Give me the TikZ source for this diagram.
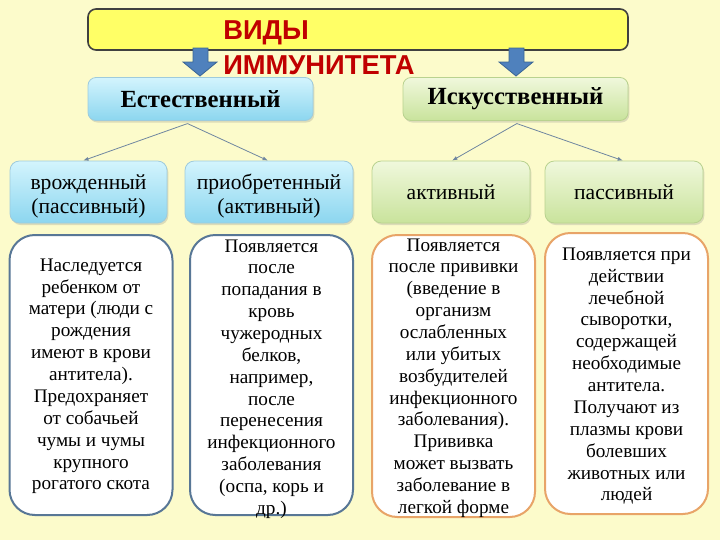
\documentclass[tikz,border=0pt]{standalone}
\usepackage{fontspec}
\setmainfont{Liberation Serif}
\newfontfamily\titlefont{Liberation Sans}
\usetikzlibrary{arrows.meta,shadows}
\definecolor{bg}{HTML}{FCFBCB}
\definecolor{titlefill}{HTML}{FFFF66}
\definecolor{titlered}{HTML}{C00000}
\definecolor{arrblue}{HTML}{4F81BD}
\definecolor{arrborder}{HTML}{3A6595}
\definecolor{bluetop}{HTML}{D3F4FD}
\definecolor{bluebot}{HTML}{8CD6EF}
\definecolor{blueline}{HTML}{9FCBDC}
\definecolor{greentop}{HTML}{F0F8DC}
\definecolor{greenbot}{HTML}{C9E39C}
\definecolor{greenline}{HTML}{B9D28F}
\definecolor{slateline}{HTML}{587796}
\definecolor{orangeline}{HTML}{E8A468}
\definecolor{connline}{HTML}{6F86A0}
\def\pxu{0.75pt}
\tikzset{
  softshadow/.style={drop shadow={opacity=0.25,shadow xshift=1pt,shadow yshift=-1.5pt}},
  levelone/.style={rounded corners=6pt,line width=0.6pt,softshadow,
    minimum width=225*\pxu,minimum height=43*\pxu,inner sep=0pt,
    font=\bfseries\fontsize{18.5}{20}\selectfont},
  leveltwo/.style={rounded corners=7pt,line width=0.6pt,softshadow,
    minimum height=62*\pxu,inner sep=0pt,align=center,
    font=\fontsize{16.2}{18}\selectfont},
  twotext/.style={label={[align=center,inner sep=0pt,yshift=-3pt,
    font=\fontsize{16.2}{18}\selectfont]center:{#1}}},
  bluebox/.style={draw=blueline,top color=bluetop,bottom color=bluebot},
  greenbox/.style={draw=greenline,top color=greentop,bottom color=greenbot},
  descbox/.style={rounded corners=19pt,line width=1.5pt,fill=white,
    minimum width=163*\pxu,minimum height=280*\pxu,inner sep=0pt},
  desctext/.style={align=center,inner sep=0pt,font=\fontsize{14.4}{16.4}\selectfont},
  conn/.style={draw=connline,line width=0.6pt,-{Latex[length=4pt,width=3pt]}},
  blockarrow/.style={fill=arrblue,draw=arrborder,line width=0.6pt,line join=miter}
}
\begin{document}
\begin{tikzpicture}[x=0.75pt,y=-0.75pt]
\fill[bg] (0,0) rectangle (720,540);
\useasboundingbox (0,0) rectangle (720,540);

% title
\node[draw=black!75,fill=titlefill,rounded corners=6pt,line width=1.2pt,
  minimum width=540*\pxu,minimum height=41*\pxu] (title) at (358,29.5) {};

% block arrows
\path[blockarrow] (183,62) -- (193,62) -- (193,48) -- (208,48) -- (208,62) -- (217,62) -- (200,76) -- cycle;
\path[blockarrow] (499,62) -- (509,62) -- (509,48) -- (524,48) -- (524,62) -- (533,62) -- (516,76) -- cycle;

\node[anchor=west,align=left,inner sep=0pt,text=titlered,
  font=\titlefont\bfseries\fontsize{20.5}{26}\selectfont] (titletext) at (223,48) {ВИДЫ\\ИММУНИТЕТА};

% level one
\node[levelone,bluebox] (nat) at (200.5,99) {Естественный};
\node[levelone,greenbox] (art) at (515.5,99) {Искусственный};

% level two
\node[leveltwo,bluebox,minimum width=157*\pxu,twotext={врожденный\\(пассивный)}] (v1) at (88.5,192) {};
\node[leveltwo,bluebox,minimum width=168*\pxu,twotext={приобретенный\\(активный)}] (v2) at (269,192) {};
\node[leveltwo,greenbox,minimum width=158*\pxu] (v3) at (451,192) {активный};
\node[leveltwo,greenbox,minimum width=158*\pxu] (v4) at (624,192) {пассивный};

% connectors
\draw[conn] ([xshift=-9.75pt,yshift=-2pt]nat.south) -- ([xshift=-4pt]v1.north);
\draw[conn] ([xshift=-9.75pt,yshift=-2pt]nat.south) -- ([xshift=-0.8pt]v2.north);
\draw[conn] ([xshift=1pt,yshift=-2pt]art.south) -- ([xshift=0.8pt]v3.north);
\draw[conn] ([xshift=1pt,yshift=-2pt]art.south) -- ([xshift=-0.8pt]v4.north);

% description boxes
\node[descbox,draw=slateline,label={[desctext,yshift=-1pt]center:{Наследуется\\ребенком от\\матери (люди с\\рождения\\имеют в крови\\антитела).\\Предохраняет\\от собачьей\\чумы и чумы\\крупного\\рогатого скота}}] (d1) at (91,375) {};
\node[descbox,draw=slateline,label={[desctext,yshift=-3pt]center:{Появляется\\после\\попадания в\\кровь\\чужеродных\\белков,\\например,\\после\\перенесения\\инфекционного\\заболевания\\(оспа, корь и\\др.)}}] (d2) at (271.5,375) {};
\node[descbox,draw=orangeline,minimum height=282*\pxu,label={[desctext,yshift=-1.5pt]center:{Появляется\\после прививки\\(введение в\\организм\\ослабленных\\или убитых\\возбудителей\\инфекционного\\заболевания).\\Прививка\\может вызвать\\заболевание в\\легкой форме}}] (d3) at (453.5,376) {};
\node[descbox,draw=orangeline,minimum height=281*\pxu,label={[desctext,yshift=-2pt]center:{Появляется при\\действии\\лечебной\\сыворотки,\\содержащей\\необходимые\\антитела.\\Получают из\\плазмы крови\\болевших\\животных или\\людей}}] (d4) at (626.5,373.5) {};
\end{tikzpicture}
\end{document}
